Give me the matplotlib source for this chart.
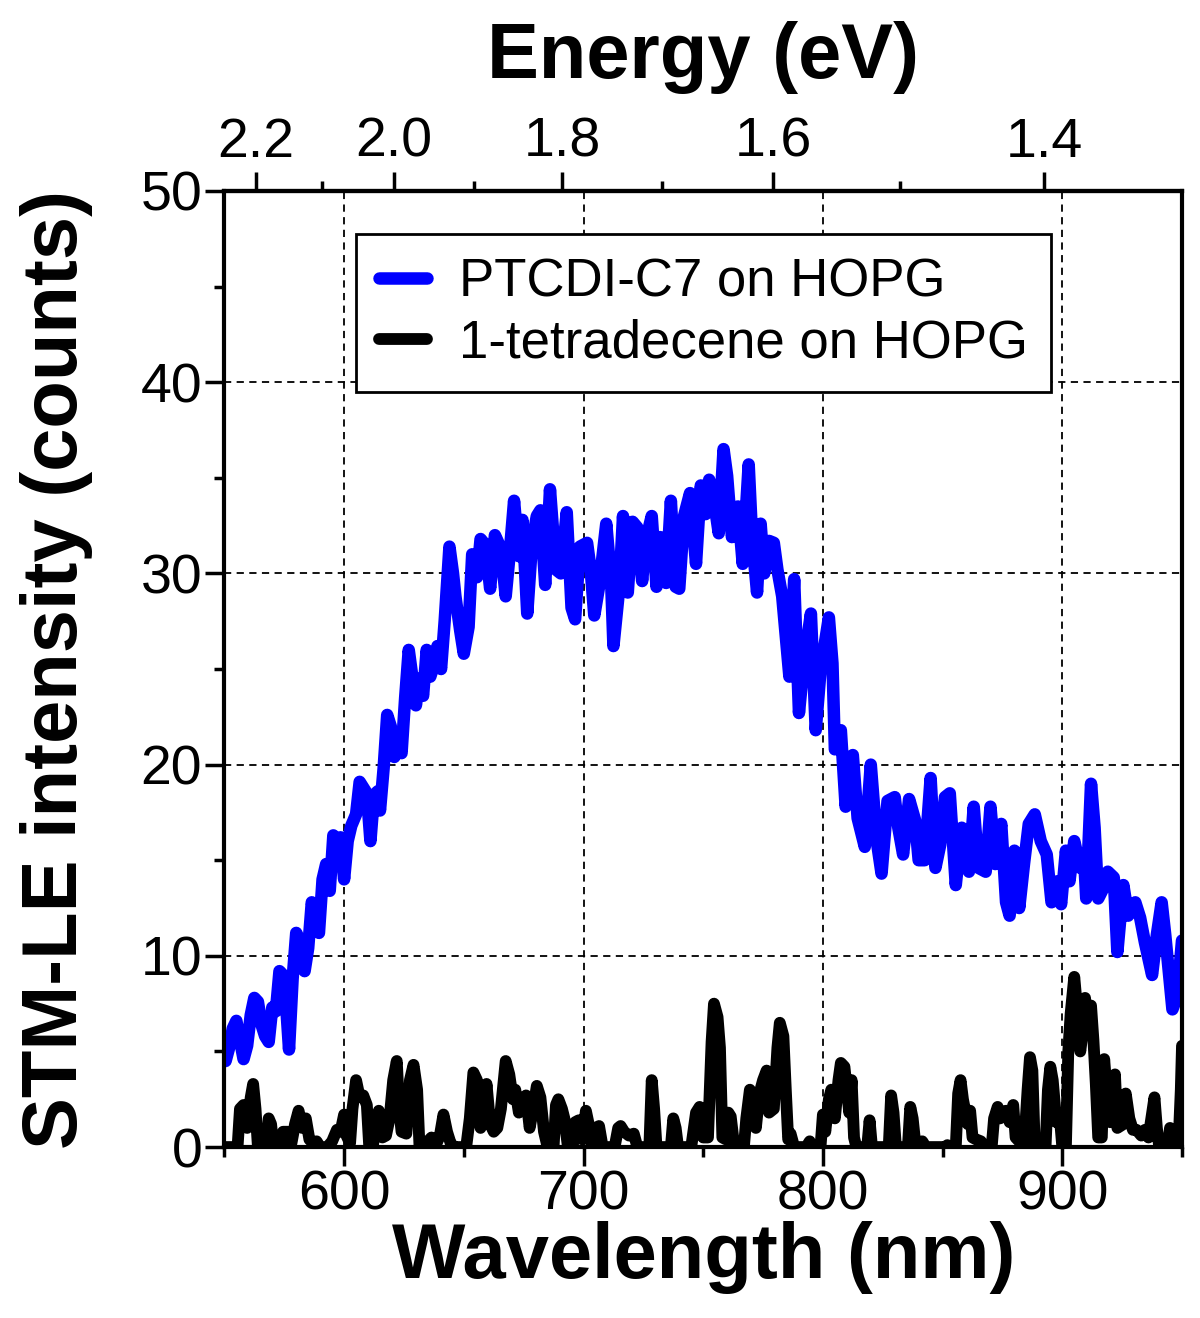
import numpy as np
import matplotlib
matplotlib.use("Agg")
import matplotlib.pyplot as plt
from matplotlib.ticker import FixedLocator, FormatStrFormatter, MultipleLocator

# PTCDI-C7 on HOPG (wavelength nm, counts)
blue_wl = [550.5, 552, 553.5, 555, 556.5, 558, 559.5, 561, 562.5, 564, 565.5, 567, 568.5,
           570, 571.5, 573, 574.5, 576, 577, 578.5, 580, 581.5, 583.5, 585, 586.5, 588,
           589.5, 591, 592.5, 594, 595.5, 597, 598.5, 600, 601.5, 603, 605, 606.5, 608,
           609.5, 611, 612.5, 614, 615, 616.5, 618, 619.5, 621, 622.5, 624, 625.5, 627,
           628.5, 630, 631.5, 633, 634.5, 636, 637.5, 639, 640.5, 642, 644, 645.5, 646.5,
           648.5, 650, 652, 653.5, 655.5, 657, 659, 661, 663, 665.5, 667.5, 669, 671, 673,
           674.5, 676.5, 678.5, 680.5, 682, 684, 686, 688.5, 690.5, 693, 695, 696.5, 698.5,
           701.5, 703, 704.5, 706.5, 709.5, 711.5, 712.5, 715, 716.5, 718.5, 720.5, 722.5,
           724.5, 726, 728.5, 730.5, 732, 734.5, 736.5, 738.5, 740, 742, 744.5, 747, 749,
           751, 752.5, 754.5, 756.5, 758.5, 760, 762, 764.5, 766.5, 769, 770.5, 772.5, 774,
           775.5, 777.5, 779.5, 781, 783, 784.5, 786, 788, 790, 792, 795, 797, 799, 802.5,
           804, 805, 807.5, 809.5, 812.5, 814.5, 817.5, 820, 822.5, 824.5, 827, 830, 831.5,
           833.5, 836, 838.5, 840, 842.5, 845, 847, 849, 851, 853, 855.5, 858, 861, 863,
           865, 868, 870, 872, 874.5, 876.5, 878, 880, 882, 884, 886, 888.5, 891, 893.5,
           895.5, 898, 899.5, 901.5, 903, 905, 907.5, 909, 910, 912, 913.5, 915, 917, 919,
           921.5, 923, 925.5, 927.5, 930.5, 932.5, 934.5, 937.5, 939.5, 941.5, 943, 946,
           948, 950]
blue_counts = [4.5, 5.2, 6.2, 6.6, 5.6, 4.6, 5.3, 6.9, 7.8, 7.6, 6.4, 5.8, 5.5,
               7.3, 7.1, 9.2, 9.0, 7.0, 5.1, 8.8, 11.2, 10.8, 9.2, 10.4, 12.8, 12.0,
               11.2, 14.0, 14.8, 13.4, 16.3, 16.0, 16.2, 14.0, 16.0, 16.8, 17.4, 19.1, 18.8,
               18.5, 16.0, 18.4, 18.6, 17.6, 19.8, 22.6, 22.0, 20.4, 21.4, 20.6, 23.5, 26.0,
               24.6, 23.1, 24.5, 23.6, 26.0, 24.6, 25.2, 26.2, 25.0, 27.5, 31.4, 30.0, 28.8,
               27.0, 25.8, 27.2, 31.0, 29.8, 31.8, 31.5, 29.2, 32.0, 31.3, 28.8, 30.8, 33.8, 30.9,
               32.8, 27.9, 31.6, 33.0, 33.3, 29.4, 34.4, 30.2, 30.0, 33.2, 28.2, 27.6, 31.4,
               31.6, 30.2, 27.8, 29.3, 32.6, 29.7, 26.2, 29.3, 33.0, 29.0, 32.7, 32.4,
               29.6, 31.7, 33.0, 29.3, 31.9, 29.5, 33.8, 29.3, 29.2, 33.0, 34.2, 30.5, 34.6,
               33.1, 34.9, 33.8, 32.1, 36.5, 35.1, 31.9, 33.5, 30.5, 35.7, 31.7, 29.0, 32.6,
               30.0, 31.7, 31.6, 30.2, 28.8, 26.7, 24.6, 29.7, 22.7, 25.3, 27.9, 21.8, 24.9, 27.7,
               25.3, 20.8, 21.8, 17.8, 20.5, 17.2, 15.7, 20.0, 16.0, 14.3, 18.1, 18.3, 16.7,
               15.3, 18.2, 17.1, 15.0, 15.0, 19.3, 14.6, 15.8, 18.3, 18.5, 13.7, 16.7, 14.4, 17.8,
               14.6, 14.4, 17.8, 14.8, 16.9, 12.8, 12.1, 15.5, 12.5, 14.8, 16.9, 17.4, 16.0, 15.3,
               12.8, 13.9, 12.7, 15.5, 13.9, 16.0, 14.6, 15.3, 13.0, 19.0, 16.7, 13.0, 13.5, 14.4,
               14.1, 10.2, 13.7, 12.1, 12.8, 12.0, 10.7, 9.0, 11.1, 12.8, 11.1, 7.2,
               7.9, 10.8]

# 1-tetradecene on HOPG (wavelength nm, counts)
black_wl = [550, 553, 555.5, 556.5, 558, 559.5, 561, 562, 563, 564, 567.5, 568.5, 569.5, 570.5,
            573, 574.5, 576.5, 578, 579.5, 581, 582.5, 584, 585.5, 587, 588.5, 590, 593, 595,
            597, 598.5, 600, 601, 602.5, 603.5, 605, 606.5, 608, 609.5, 610.5, 612, 613, 614.5,
            616, 617.5, 619, 620.5, 622, 623, 624, 626, 627.5, 629, 630.5, 631.5, 635, 636.5,
            638, 640, 641.5, 643, 644.5, 646, 651, 652.5, 654, 655.5, 657, 658.5, 659.5, 661,
            662.5, 664, 665.5, 667.5, 669, 670.5, 671.5, 673, 674.5, 676, 677.5, 679, 680.5,
            682, 683.5, 685, 687.5, 688.5, 689.5, 691, 692, 693.5, 695.5, 696.5, 698, 699.5,
            701, 702.5, 703.5, 705, 706.5, 708, 713, 714.5, 715.5, 717, 719, 721, 722.5, 727.5,
            728.5, 729.5, 730.5, 736.5, 737.5, 738.5, 739.5, 745, 746, 747, 748.5, 750, 752,
            753.5, 754.5, 756, 757, 758, 759.5, 760.5, 761.5, 763, 767, 768, 769.5, 770.5, 772,
            773.5, 775, 776.5, 777.5, 779.5, 781, 782, 783.5, 784.5, 785.5, 786.5, 788, 793,
            794.5, 795.5, 799, 800, 801, 802.5, 803.5, 805, 806.5, 807.5, 809, 810, 811, 812,
            813, 814, 818.5, 819.5, 820.5, 827.5, 828.5, 829.5, 830.5, 835.5, 836.5, 837.5,
            838.5, 840, 841.5, 843, 851, 852, 853, 855.5, 856.5, 857.5, 858.5, 860.5, 861.5,
            862.5, 864, 866, 867.5, 870.5, 871.5, 873, 874, 875.5, 876.5, 878, 879.5, 880.5,
            882, 884, 885.5, 886.5, 887.5, 888.5, 893, 894, 895, 896, 897.5, 899, 900, 901.5,
            902.5, 903.5, 905, 906, 907.5, 908.5, 909.5, 910.5, 912, 913, 914, 915, 916.5,
            917.5, 918.5, 920, 921, 922, 923, 925.5, 926.5, 928, 929.5, 931, 933, 934.5, 936,
            938.5, 939.5, 940.5, 944, 945, 946, 948.5, 949.5, 950]
black_counts = [0, 0, 0, 2.0, 2.2, 1.0, 2.6, 3.3, 2.0, 0, 0, 1.5, 1.2, 0,
                0, 0.8, 0.8, 0.2, 1.2, 1.9, 1.0, 1.5, 0.4, 0.2, 0.3, 0, 0, 0.3,
                0.9, 0.8, 1.7, 0.6, 0.2, 2.0, 3.5, 2.6, 2.7, 2.2, 0, 0, 1.2, 1.9,
                0.5, 0.6, 1.5, 3.5, 4.5, 2.0, 0.8, 0.7, 3.5, 4.3, 3.0, 0, 0.3, 0.5,
                0, 0.6, 1.7, 0.8, 0.2, 0, 0, 1.5, 3.9, 3.5, 1.0, 2.0, 3.3, 1.2,
                0.8, 1.0, 2.0, 4.5, 3.8, 2.5, 3.0, 1.8, 2.5, 2.7, 1.0, 2.0, 3.2,
                2.6, 0.8, 0, 0, 2.2, 2.5, 2.0, 1.5, 0, 0, 1.3, 1.4, 0.4,
                1.9, 1.0, 0, 1.0, 1.1, 0, 0, 1.0, 1.1, 0.8, 0.6, 0.7, 0, 0,
                3.5, 2.0, 0, 0, 1.5, 1.0, 0, 0, 0.9, 1.8, 2.1, 0.5, 0.5,
                5.5, 7.5, 6.8, 5.2, 0.5, 0.4, 1.8, 1.6, 0, 0, 1.5, 3.0, 2.4, 1.0,
                2.8, 3.5, 4.0, 1.8, 2.0, 5.2, 6.5, 5.8, 3.0, 0.4, 0.7, 0, 0,
                0.3, 0, 0, 1.7, 0.8, 2.5, 3.0, 1.5, 3.5, 4.4, 4.2, 3.0, 1.8, 3.5,
                0.5, 0, 0, 1.4, 0, 0, 2.7, 1.8, 0, 0, 2.1, 1.5,
                0.3, 0.2, 0.3, 0, 0, 0.1, 0, 0, 2.8, 3.5, 2.5, 1.2, 1.9,
                0.5, 0.4, 0.3, 0, 0, 1.5, 2.1, 1.5, 1.7, 1.9, 1.3, 2.2, 0.5,
                0.3, 0, 3.0, 4.7, 4.0, 0, 0, 3.0, 4.2, 3.5, 1.3, 1.5, 0, 0,
                5.0, 7.0, 8.9, 7.5, 5.0, 6.0, 7.8, 6.5, 7.4, 5.6, 3.3, 0.5, 0.5,
                4.6, 3.0, 1.3, 1.5, 3.8, 1.0, 1.2, 2.8, 1.5, 0.9, 0.9, 0.6, 0.9, 0.5,
                2.6, 1.0, 0, 0, 1.0, 0, 0, 3.0, 5.3]

series_labels = ["PTCDI-C7 on HOPG", "1-tetradecene on HOPG"]
energy_ticks = [2.2, 2.0, 1.8, 1.6, 1.4]
energy_minor = [2.1, 1.9, 1.7, 1.5]

plt.rcParams['font.family'] = ['Liberation Sans', 'DejaVu Sans']

fig = plt.figure(figsize=(12, 13.18), dpi=100)
ax = fig.add_axes([0.187, 0.1297, 0.798, 0.7254])

ax.plot(blue_wl, blue_counts, color='#0000ff', lw=9, solid_joinstyle='round',
        solid_capstyle='round', label=series_labels[0])
ax.plot(black_wl, black_counts, color='black', lw=8.5, solid_joinstyle='round',
        solid_capstyle='round', label=series_labels[1])

ax.set_xlim(550, 950)
ax.set_ylim(0, 50)
ax.xaxis.set_major_locator(MultipleLocator(100))
ax.xaxis.set_minor_locator(MultipleLocator(50))
ax.yaxis.set_major_locator(MultipleLocator(10))
ax.yaxis.set_minor_locator(MultipleLocator(5))
ax.set_axisbelow(True)
ax.grid(which='major', color='black', lw=1.3, ls=(0, (4, 3)))

for s in ax.spines.values():
    s.set_linewidth(3)
ax.tick_params(which='major', direction='out', length=14, width=2.5, labelsize=40, pad=2)
ax.tick_params(which='minor', direction='out', length=7, width=2.5)
ax.tick_params(top=False, right=False, which='both')

ax.set_xlabel('Wavelength (nm)', fontsize=56, fontweight='bold', labelpad=0)
ax.set_ylabel('STM-LE intensity (counts)', fontsize=56, fontweight='bold', labelpad=34)


# energy scale as laid out on the original top axis
def wl_to_ev(x):
    x = np.asarray(x, dtype=float)
    d = x + 13.0
    return 1267.6 / np.where(d == 0, 1e-9, d)


def ev_to_wl(e):
    e = np.asarray(e, dtype=float)
    return 1267.6 / np.where(e == 0, 1e-9, e) - 13.0


secax = ax.secondary_xaxis('top', functions=(wl_to_ev, ev_to_wl))
secax.xaxis.set_major_locator(FixedLocator(energy_ticks))
secax.xaxis.set_minor_locator(FixedLocator(energy_minor))
secax.xaxis.set_major_formatter(FormatStrFormatter('%.1f'))
secax.tick_params(which='major', direction='out', length=14, width=2.5, labelsize=40, pad=2)
secax.tick_params(which='minor', direction='out', length=7, width=2.5)
secax.spines['top'].set_linewidth(3)
secax.set_xlabel('Energy (eV)', fontsize=56, fontweight='bold', labelpad=28)

leg = ax.legend(loc='upper left', bbox_to_anchor=(0.137, 0.955), fontsize=38,
                frameon=True, fancybox=False, framealpha=1, edgecolor='black',
                handlelength=0.9, handletextpad=0.6, borderpad=0.45, labelspacing=0.2,
                borderaxespad=0)
leg.get_frame().set_linewidth(2)

fig.savefig('out.png', dpi=100)
